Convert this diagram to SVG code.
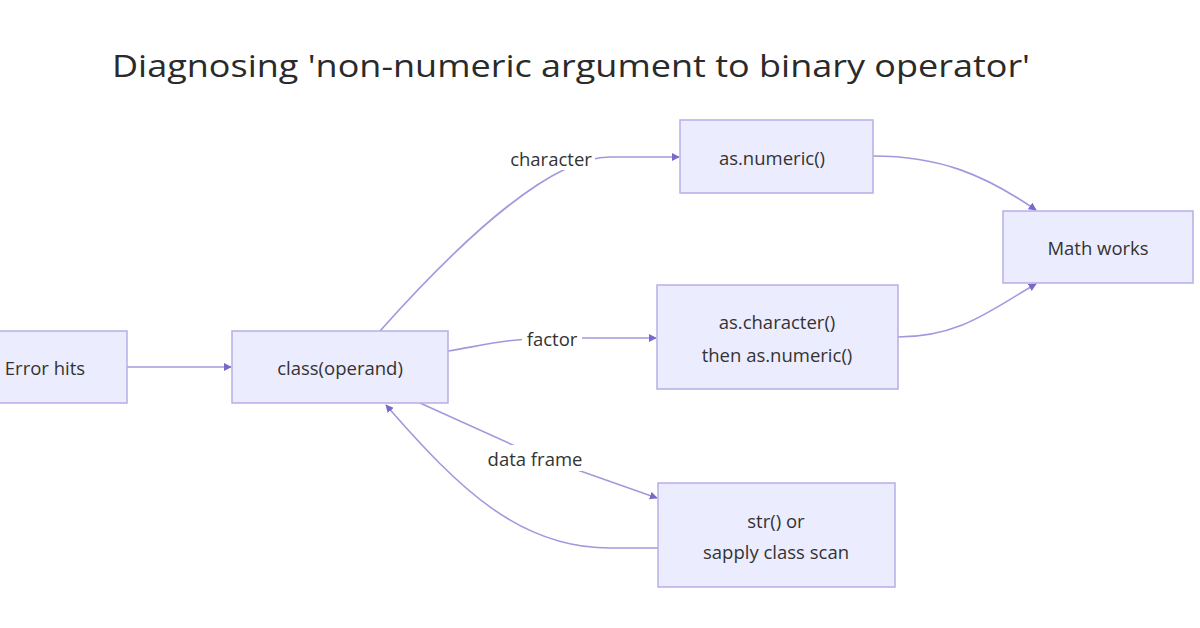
<svg xmlns="http://www.w3.org/2000/svg" width="1200" height="628" viewBox="0 0 1200 628">
<style>
.node rect{fill:#ECECFF;stroke:#B7AEE6;stroke-width:1.5}
.node text,.lbl text{font-family:"Open Sans","Noto Sans",sans-serif;font-size:18.5px;fill:#333;text-anchor:middle;dominant-baseline:central}
.edge{fill:none;stroke:#A498DD;stroke-width:1.6}
.lbl rect{fill:#fff}
.title{font-family:"Open Sans","Noto Sans",sans-serif;font-size:31px;fill:#2a2a2a;text-anchor:middle}
</style>
<defs>
<marker id="arr" viewBox="0 0 10 10" refX="9" refY="5" markerWidth="8" markerHeight="8" orient="auto" markerUnits="userSpaceOnUse">
<path d="M0,0 L10,5 L0,10 z" fill="#7B68C8"/>
</marker>
</defs>
<rect width="1200" height="628" fill="#fff"/>
<text class="title" x="571" y="77" textLength="918" lengthAdjust="spacingAndGlyphs">Diagnosing 'non-numeric argument to binary operator'</text>
<g id="connectors">
<path class="edge" d="M127,367 L231,367" marker-end="url(#arr)"/>
<path class="edge" d="M380,331 C470,230 555,157 610,157 L679,157" marker-end="url(#arr)"/>
<path class="edge" d="M448,351 C480,346 510,338 552,338 L656,338" marker-end="url(#arr)"/>
<path class="edge" d="M420,403 L535,455 L657,498" marker-end="url(#arr)"/>
<path class="edge" d="M658,548 L610,548 C520,548 460,490 386,405" marker-end="url(#arr)"/>
<path class="edge" d="M873,156 C940,156 985,175 1036,210" marker-end="url(#arr)"/>
<path class="edge" d="M898,337 C960,337 990,310 1036,284" marker-end="url(#arr)"/>
<g class="lbl"><rect x="507" y="146" width="88" height="24"/><text x="551" y="158">character</text></g>
<g class="lbl"><rect x="522" y="326" width="60" height="24"/><text x="552" y="338">factor</text></g>
<g class="lbl"><rect x="482" y="445" width="106" height="26"/><text x="535" y="458">data frame</text></g>
</g>
<g id="n-error" class="node"><rect x="-37" y="331" width="164" height="72"/><text x="45" y="367">Error hits</text></g>
<g id="n-class" class="node"><rect x="232" y="331" width="216" height="72"/><text x="340" y="367">class(operand)</text></g>
<g id="n-asnum" class="node"><rect x="680" y="120" width="193" height="73"/><text x="772" y="157">as.numeric()</text></g>
<g id="n-aschar" class="node"><rect x="657" y="285" width="241" height="104"/><text x="777" y="321">as.character()</text><text x="777" y="354">then as.numeric()</text></g>
<g id="n-math" class="node"><rect x="1003" y="211" width="190" height="72"/><text x="1098" y="247">Math works</text></g>
<g id="n-str" class="node"><rect x="658" y="483" width="237" height="104"/><text x="776" y="520">str() or</text><text x="776" y="551">sapply class scan</text></g>
</svg>
